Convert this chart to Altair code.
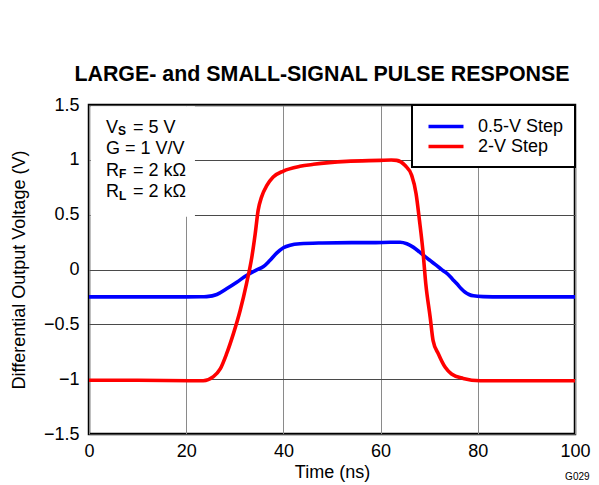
import altair as alt
import pandas as pd

FONT = "Liberation Sans"

# ---- data ----
blue_t = [0, 10, 20, 23, 24.2, 26.3, 28.3, 30.4, 32.4, 34.5, 35.9, 37.2, 38.6, 40.0, 41.4, 43.4,
          48, 54, 58, 62, 64, 65.4, 66.7, 68, 69.1, 70.3, 71.5, 72.7, 73.9, 74.8, 75.7, 76.6,
          77.4, 78.2, 79.1, 81.1, 85, 90, 100]
blue_v = [-0.25, -0.25, -0.25, -0.249, -0.247, -0.228, -0.176, -0.116, -0.055, -0.003, 0.027,
          0.082, 0.149, 0.198, 0.222, 0.235, 0.242, 0.245, 0.245, 0.248, 0.249, 0.235, 0.204,
          0.16, 0.119, 0.078, 0.037, -0.005, -0.046, -0.088, -0.13, -0.175, -0.207, -0.228,
          -0.24, -0.247, -0.25, -0.25, -0.25]
red_t = [0, 10, 20.8, 23.5, 25.6, 27.0, 28.3, 29.7, 31.1, 32.4, 33.5, 34.2, 34.8, 35.5, 36.6,
         37.9, 40.0, 43.4, 46.2, 53.0, 59.9, 62.2, 63.3, 65.0, 66.4, 67.3, 68.0, 68.7, 69.3,
         70.2, 70.8, 71.9, 73.3, 74.6, 77.0, 80.5, 90, 100]
red_v = [-1.01, -1.01, -1.014, -1.014, -0.977, -0.907, -0.77, -0.587, -0.374, -0.131, 0.112,
         0.326, 0.539, 0.66, 0.767, 0.843, 0.898, 0.941, 0.959, 0.986, 0.995, 0.998, 0.995,
         0.95, 0.858, 0.691, 0.447, 0.174, -0.131, -0.435, -0.648, -0.77, -0.892, -0.953,
         -0.993, -1.014, -1.015, -1.015]

series_names = ["0.5-V Step", "2-V Step"]
series_colors = ["#0000ff", "#ff0000"]
x_ticks = [0, 20, 40, 60, 80, 100]
y_ticks = [-1.5, -1, -0.5, 0, 0.5, 1, 1.5]

# annotation text (condition box)
ann_main_text = ["V", "= 5 V", "G = 1 V/V", "R", "= 2 kΩ", "R", "= 2 kΩ"]
ann_main_t = [3.5, 9.05, 3.5, 3.5, 9.05, 3.5, 9.05]
ann_main_v = [1.247, 1.247, 1.05, 0.854, 0.854, 0.658, 0.658]
ann_sub_text = ["S", "F", "L"]
ann_sub_t = [5.95, 6.15, 6.15]
ann_sub_v = [1.225, 0.832, 0.636]

blue_df = pd.DataFrame({"t": blue_t, "v": blue_v, "series": series_names[0]})
red_df = pd.DataFrame({"t": red_t, "v": red_v, "series": series_names[1]})

x_scale = alt.Scale(domain=[0, 100], nice=False, zero=False)
y_scale = alt.Scale(domain=[-1.5, 1.5], nice=False, zero=False)

x_axis = alt.Axis(values=x_ticks, title="Time (ns)", format="d", grid=True,
                  gridColor="#8a8a8a", gridWidth=1, ticks=False, tickSize=0, domain=False,
                  labelFlush=False, labelPadding=8, titlePadding=3)
y_axis = alt.Axis(values=y_ticks, title="Differential Output Voltage (V)", format=".1~f",
                  labelExpr="replace(datum.label, '-', '\u2212')", grid=True,
                  gridColor="#4a4a4a", gridWidth=1, ticks=False, tickSize=0, domain=False,
                  labelFlush=False, labelPadding=10, titlePadding=15)

color = alt.Color("series:N",
                  scale=alt.Scale(domain=series_names, range=series_colors),
                  legend=alt.Legend(title=None, orient="top-right", offset=0,
                                    symbolType="M-2,0H2", symbolSize=306,
                                    symbolStrokeWidth=3.5, symbolOffset=12.5,
                                    labelFontSize=18, labelFont=FONT, labelColor="black",
                                    labelOffset=21.5, rowPadding=0, padding=11,
                                    fillColor="white", strokeColor="black"))

box_df = pd.DataFrame({"x": [0.35], "x2": [21.8], "y": [0.48], "y2": [1.488]})
box = alt.Chart(box_df).mark_rect(fill="white", stroke=None).encode(
    x=alt.X("x:Q", scale=x_scale, axis=x_axis), x2="x2:Q",
    y=alt.Y("y:Q", scale=y_scale, axis=y_axis), y2="y2:Q")

blue = alt.Chart(blue_df).mark_line(strokeWidth=3.6, interpolate="monotone").encode(
    x=alt.X("t:Q", scale=x_scale, axis=x_axis),
    y=alt.Y("v:Q", scale=y_scale, axis=y_axis),
    color=color)
red = alt.Chart(red_df).mark_line(strokeWidth=3.6, interpolate="monotone").encode(
    x=alt.X("t:Q", scale=x_scale, axis=x_axis),
    y=alt.Y("v:Q", scale=y_scale, axis=y_axis),
    color=color)

main_df = pd.DataFrame({"t": ann_main_t, "v": ann_main_v, "txt": ann_main_text})
sub_df = pd.DataFrame({"t": ann_sub_t, "v": ann_sub_v, "txt": ann_sub_text})
main_txt = alt.Chart(main_df).mark_text(align="left", baseline="alphabetic", fontSize=18,
                                        font=FONT, color="black").encode(
    x="t:Q", y="v:Q", text="txt:N")
sub_txt = alt.Chart(sub_df).mark_text(align="left", baseline="alphabetic", fontSize=12,
                                      fontWeight="bold", font=FONT, color="black").encode(
    x="t:Q", y="v:Q", text="txt:N")

code_df = pd.DataFrame({"t": [103.0], "v": [-1.915], "txt": ["G029"]})
code_txt = alt.Chart(code_df).mark_text(align="right", baseline="alphabetic", fontSize=10,
                                        font=FONT, color="black").encode(
    x="t:Q", y="v:Q", text="txt:N")

chart = alt.layer(box, blue, red, main_txt, sub_txt, code_txt).properties(
    width=486, height=329,
    title=alt.TitleParams("LARGE- and SMALL-SIGNAL PULSE RESPONSE", fontSize=21.4,
                          fontWeight="bold", font=FONT, color="black", anchor="middle",
                          offset=11, dx=-10),
    autosize=alt.AutoSizeParams(type="none"),
    padding={"left": 81, "top": 97, "right": 16, "bottom": 49},
).configure_view(
    stroke="black", strokeWidth=2.5
).configure_axis(
    labelFont=FONT, labelFontSize=18, labelColor="black",
    titleFont=FONT, titleFontSize=18, titleFontWeight="normal", titleColor="black"
).configure_legend(
    strokeWidth=2
)

chart.save("out.html", embed_options={"renderer": "svg", "actions": False})
